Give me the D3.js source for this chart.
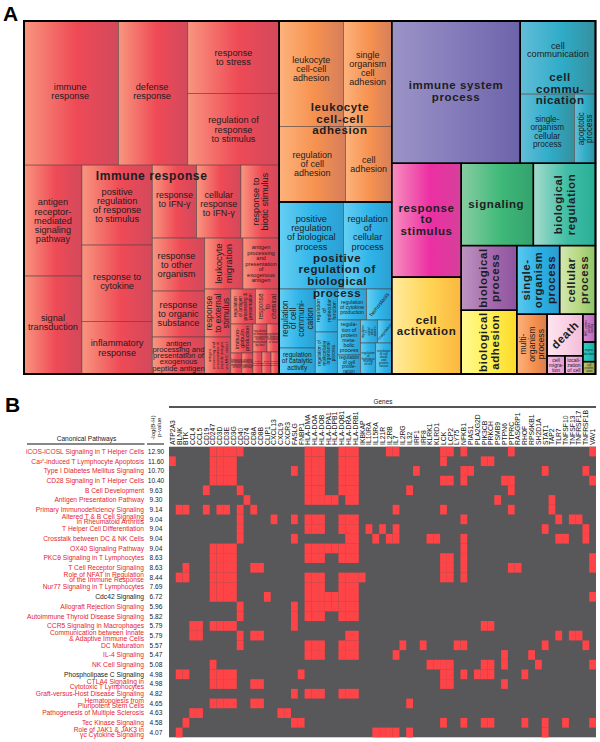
<!DOCTYPE html>
<html><head><meta charset="utf-8">
<style>html,body{margin:0;padding:0;background:#fff}svg{display:block}text{font-family:"Liberation Sans",Arial,sans-serif}</style>
<script src="https://cdn.jsdelivr.net/npm/d3@7"></script>
</head><body><svg id="c" width="600" height="742"></svg>
<script>
// ---------- Panel B data ----------
const genes = ["ATP2A3","BLNK","BTK","CCL4","CCL5","CD19","CD247","CD3D","CD3E","CD3G","CD40","CD74","CD8A","CD8B","CLIP1","CXCL13","CXCL9","CXCR3","FASLG","FNBP1","HLA-DMA","HLA-DOA","HLA-DOB","HLA-DPA1","HLA-DPB1","HLA-DQB1","HLA-DRA","HLA-DRB1","IKBKAP","IL10RA","IL15RA","IL21R","IL2RB","IL7","IL2RG","IL32","IRF1","IRF8","KLRK1","KLRD1","LCK","LCP2","LY75","NFKB1","PIAS1","PLA2G2D","PIK3CB","PRKCH","PSMB9","PTPN6","PTPRC","RASGRP1","RHOF","RPS6KB1","SH2D1A","STAT1","TAP2","TLR7","TNFSF10","TNFSF13","TNFRSF17","TNFRSF1B","VAV1"];
const pathways = ["iCOS-iCOSL Signaling in T Helper Cells","Ca²⁺-induced T Lymphocyte Apoptosis","Type I Diabetes Mellitus Signaling","CD28 Signaling in T Helper Cells","B Cell Development","Antigen Presentation Pathway","Primary Immunodeficiency Signaling","Altered T & B Cell Signaling\nin Rheumatoid Arthritis","T Helper Cell Differentiation","Crosstalk between DC & NK Cells","OX40 Signaling Pathway","PKCθ Signaling in T Lymphocytes","T Cell Receptor Signaling","Role of NFAT in Regulation\nof the Immune Response","Nur77 Signaling in T Lymphocytes","Cdc42 Signaling","Allograft Rejection Signaling","Autoimmune Thyroid Disease Signaling","CCR5 Signaling in Macrophages","Communication between Innate\n& Adaptive Immune Cells","DC Maturation","IL-4 Signaling","NK Cell Signaling","Phospholipase C Signaling","CTLA4 Signaling in\nCytotoxic T Lymphocytes","Graft-versus-Host Disease Signaling","Hematopoiesis from\nPluripotent Stem Cells","Pathogenesis of Multiple Sclerosis","Tec Kinase Signaling","Role of JAK1 & JAK3 in\nγc Cytokine Signaling"];
const pValues = ["12.90","11.60","10.70","10.40","9.63","9.30","9.14","9.04","9.04","9.04","9.04","8.63","8.63","8.44","7.69","6.72","5.96","5.82","5.79","5.79","5.57","5.47","5.08","4.98","4.98","4.82","4.65","4.63","4.58","4.07"];
const blackPathways = ["Cdc42 Signaling","Phospholipase C Signaling"];
// gene indexes present in each pathway
const hits = [
 [6,7,8,9,10,20,21,22,25,26,27,32,33,40,41,43,50,62],
 [0,6,7,8,9,20,21,22,25,26,27,40,46,47],
 [6,7,8,9,18,20,21,22,25,26,27,36,43,44,55,61],
 [6,7,8,9,20,21,22,25,26,27,40,41,43,49,50,62],
 [5,10,20,21,22,25,26,27,35,50],
 [11,20,21,22,23,24,26,27,48,56],
 [1,2,5,7,8,10,12,33,40,50,56],
 [10,15,18,20,21,22,25,26,27,43,57,59,60],
 [10,20,21,22,25,26,27,29,31,33,55,61],
 [10,18,26,27,30,32,33,38,39,43,57,58,61],
 [6,7,8,9,20,21,22,23,24,25,26,27,43],
 [6,7,8,9,20,21,22,25,26,27,40,41,43,62],
 [2,6,7,8,9,12,13,40,41,43,50,51,62],
 [1,2,6,7,8,9,20,21,22,25,26,27,28,40,41,43],
 [6,7,8,9,20,21,22,25,26,27],
 [6,7,8,9,14,20,21,22,23,24,25,26,27,62],
 [10,18,20,21,22,23,24,25,26,27],
 [10,18,20,21,22,25,26,27],
 [3,4,6,7,8,9,18,46,47],
 [3,4,10,12,13,26,27,57,59,60],
 [10,20,21,22,25,26,27,34,37,42,43,55,61],
 [20,21,22,25,26,27,33,49,53],
 [6,38,39,40,41,46,47,49,54,62],
 [1,2,6,7,8,9,19,40,41,43,45,46,47,52],
 [6,7,8,9,12,13,40,41,49],
 [18,20,21,22,25,26,27],
 [6,7,8,9,12,13,35],
 [3,4,16,17],
 [2,18,19,40,43,46,47,52,55,58,62],
 [1,30,31,32,33,35,55]
];

// ---------- Panel A data: term weights, nested the way the treemap splits them ----------
const L = (name, value) => ({name, value});
const X = (...children) => ({dir:"x", children});
const Y = (...children) => ({dir:"y", children});
const G = (group, node) => Object.assign(node, {group});

const immuneTiny = X(
  Y(L("immuno-\nglobulin\nproduction",638), X(L("leukocyte\nmediated\nimmunity\nof host",231), L("cytokine\nmediated\nsignaling\npathway",231))),
  Y(X(L("regulation\nof immune\nresponse\nto virus\nmodulation\nby host",392), L("regulation\nof defense\nresponse\nto virus",336)),
    X(L("T cell\nmediated\nimmunity",198), L("B cell\nreceptor\nsignaling",198), L("adaptive\nimmune\nresponse",176)))
);
const immuneLower = Y(
  X(L("leukocyte\nmigration",1938), L("antigen\nprocessing\nand\npresentation\nof\nexogenous\nantigen",1836)),
  X(Y(L("response\nto external\nstimulus",1248), L("antigen\nprocessing and\npresentation of\npeptide antigen\nvia MHC class I",962)),
    Y(X(L("regulation\nof antigen\nprocessing &\npresentation",858), L("response\nto\nchemical",822)), immuneTiny))
);
const immuneTerms = Y(
 X(L("immune\nresponse",13536), L("defense\nresponse",9936), Y(L("response\nto stress",6598), L("regulation of\nresponse\nto stimulus",6507))),
 X(Y(L("antigen\nreceptor-\nmediated\nsignaling\npathway",6383), L("signal\ntransduction",5635)),
   Y(L("positive\nregulation\nof response\nto stimulus",5600), L("response to\ncytokine",5355), L("inflammatory\nresponse",3675)),
   Y(X(L("response\nto IFN-γ",3212), L("cellular\nresponse\nto IFN-γ",3212), L("response to\nbiotic stimulus",2774)),
     X(Y(L("response\nto other\norganism",2756), L("response\nto organic\nsubstance",2392), L("antigen\nprocessing and\npresentation of\nexogenous\npeptide antigen",1924)),
       immuneLower)))
);
const adhesionTerms = Y(
 X(L("leukocyte\ncell-cell\nadhesion",6752), L("single\norganism\ncell\nadhesion",5064)),
 X(L("regulation\nof cell\nadhesion",4983), L("cell\nadhesion",3473))
);
const regulationTiny = X(
  Y(L("regula-\ntion of\nprotein\nmeta-\nbolic\nprocess",805), L("regulation\nof cell\nprolife-\nration",437)),
  Y(X(L("regulation\nof\nsignal\ntrans-\nduction",391), L("coagulation",322)),
    X(L("regulation\nof\nhydrolase\nactivity\nof cell",465), L("regulation\nof cell\ndeath\nand\nprotein\nkinase",496)))
);
const regulationTerms = Y(
 X(L("positive\nregulation\nof biological\nprocess",5568), L("regulation\nof\ncellular\nprocess",4176)),
 X(Y(L("regulation\nof cell\ncommuni-\ncation",2124), L("regulation\nof catalytic\nactivity",936)),
   Y(L("regulation\nof\nmolecular\nfunction",946), L("regulation of\nmulticellular\norganismal\nprocess",924)),
   Y(X(L("regulation\nof cytokine\nproduction",899), L("hemostasis",775)), regulationTiny))
);
const communicationTerms = Y(
 L("cell\ncommunication",5475),
 X(L("single-\norganism\ncellular\nprocess",3726), L("apoptotic\nprocess",1449))
);
const smallTerms = X(
 G("multi", L("multi-\norganism\nprocess",1800)),
 Y(G("death", L("death",1476)), X(G("migration", L("cell\nmigra-\ntion",324)), G("migration", L("locali-\nzation\nof cell",324)))),
 Y(G("tinyPurple", L("MHC protein\ncomplex\nbinding",351)), G("tinyTeal", L("repro-\nduction",247)), G("tinyOlive", L("cell\nprolifer-\nation",156)))
);
const lowerRight = X(
 Y(G("bioprocess", L("biological\nprocess",3575)), G("bioadhesion", L("biological\nadhesion",3520))),
 Y(X(G("singleorg", L("single-\norganism\nprocess",2924)), G("cellular", L("cellular\nprocess",2448))), smallTerms)
);
const tree = X(
 G("immune", immuneTerms),
 Y(G("adhesion", adhesionTerms), G("regulation", regulationTerms)),
 Y(X(G("system", L("immune system\nprocess",18176)), G("communication", communicationTerms)),
   X(Y(G("stimulus", L("response\nto\nstimulus",7866)), G("activation", L("cell\nactivation",6693))),
     Y(X(G("signaling", L("signaling",5904)), G("bioregulation", L("biological\nregulation",5084))), lowerRight)))
);

// gradient stops for each group: left, middle, right
const groupColors = {
 immune:["#F8967F","#EF4A56","#D2495C"], adhesion:["#FDB37C","#F6914F","#D67F5C"], regulation:["#66CFF3","#2FB4E9","#2C9FD2"],
 system:["#9C94C6","#8279B9","#6D63AA"], communication:["#63BDD8","#2FACC8","#35909E"], stimulus:["#F78FBF","#EC2FA3","#D6409B"],
 activation:["#FFEB9E","#FFD455","#FBB740"], signaling:["#88CDA2","#3FB978","#34A26E"], bioregulation:["#A6DBCE","#3FBEA5","#2BAD96"],
 bioprocess:["#BC95C0","#A469AD","#8D55A0"], bioadhesion:["#FFFA92","#FFEF50","#FDD92A"], singleorg:["#5DC9EF","#2AB0E6","#2A9BD0"],
 cellular:["#D4E8B4","#B6D880","#8FC36B"], multi:["#FBB37E","#F6924F","#D97D50"], death:["#FDE5F0","#F9D0E5","#F2BCD8"],
 migration:["#F2BCE4","#EDA9DC","#E59AD2"], tinyPurple:["#D68AD2","#C977C8","#B766B8"], tinyTeal:["#3CCBC2","#1DBFB5","#19A69E"], tinyOlive:["#BCC574","#A9B55C","#97A44D"]
};
// label font for each term: [size, rotation, dx, dy, bold, line height]
const labelFonts = {
 "immune\nresponse":[9.2,0,-1,-2],"defense\nresponse":[9.2,0,-1,-2],"response\nto stress":[9.2],"regulation of\nresponse\nto stimulus":[9.2],
 "antigen\nreceptor-\nmediated\nsignaling\npathway":[9.2],"signal\ntransduction":[9.2,0,0,-3],"positive\nregulation\nof response\nto stimulus":[9.2],
 "response to\ncytokine":[9.2,0,0,-2],"inflammatory\nresponse":[9.2],"response\nto IFN-γ":[9,0,0,-2],"cellular\nresponse\nto IFN-γ":[9,0,0,2],
 "response to\nbiotic stimulus":[9.2,-90],"response\nto other\norganism":[9.2,0,-2],"response\nto organic\nsubstance":[9.2],
 "antigen\nprocessing and\npresentation of\nexogenous\npeptide antigen":[7.7,0,0,0,0,6.2],"leukocyte\nmigration":[9.6,-90,0,0,0,9.8],
 "antigen\nprocessing\nand\npresentation\nof\nexogenous\nantigen":[5.7,0,0,0,0,5.5],"response\nto external\nstimulus":[8.4,-90,0,0,0,8.7],
 "antigen\nprocessing and\npresentation of\npeptide antigen\nvia MHC class I":[4,-90,0,0,0,4.2],"regulation\nof antigen\nprocessing &\npresentation":[4.8,-90,0,0,0,5],
 "response\nto\nchemical":[6.3,-90],"immuno-\nglobulin\nproduction":[5.4,-90],"leukocyte\nmediated\nimmunity\nof host":[2.6],"cytokine\nmediated\nsignaling\npathway":[2.6],
 "regulation\nof immune\nresponse\nto virus\nmodulation\nby host":[2.8],"regulation\nof defense\nresponse\nto virus":[2.8],
 "T cell\nmediated\nimmunity":[2.4],"B cell\nreceptor\nsignaling":[2.4],"adaptive\nimmune\nresponse":[2.4],
 "leukocyte\ncell-cell\nadhesion":[9,0,0,-5],"single\norganism\ncell\nadhesion":[9,0,0,-5],"regulation\nof cell\nadhesion":[9],"cell\nadhesion":[9],
 "positive\nregulation\nof biological\nprocess":[9.2,0,0,-13],"regulation\nof\ncellular\nprocess":[9.2,0,0,-13],
 "regulation\nof cell\ncommuni-\ncation":[8.3,-90],"regulation\nof catalytic\nactivity":[6.5],"regulation\nof\nmolecular\nfunction":[5.3,-90],
 "regulation of\nmulticellular\norganismal\nprocess":[4.7,-90],"regulation\nof cytokine\nproduction":[5,0,0,3],"hemostasis":[5.6,-52],
 "regula-\ntion of\nprotein\nmeta-\nbolic\nprocess":[5.3],"regulation\nof cell\nprolife-\nration":[4.6],"regulation\nof\nsignal\ntrans-\nduction":[3,-90],
 "coagulation":[4,-50],"regulation\nof\nhydrolase\nactivity\nof cell":[3],"regulation\nof cell\ndeath\nand\nprotein\nkinase":[3],
 "cell\ncommunication":[9.2,0,0,-8,0,8],"single-\norganism\ncellular\nprocess":[8.2,0,0,3],"apoptotic\nprocess":[8.2,-90],
 "immune system\nprocess":[11.5,0,0,-1,1,11.7],"response\nto\nstimulus":[11.5,0,0,-1,1,11.7],"cell\nactivation":[11.5,0,0,0,1,11.7],"signaling":[11.5,0,-1,0,1],
 "biological\nregulation":[11.5,-90,0,0,1,12.8],"biological\nprocess":[11.5,-90,0,0,1,12.8],"biological\nadhesion":[11.5,-90,0,0,1,12.8],
 "single-\norganism\nprocess":[11.5,-90,0,0,1,12.6],"cellular\nprocess":[11.5,-90,0,0,1,12.6],"multi-\norganism\nprocess":[8.6,-90,0,0,0,8.8],"death":[11.5,-45,0,0,1],
 "cell\nmigra-\ntion":[5],"locali-\nzation\nof cell":[5],"MHC protein\ncomplex\nbinding":[2.8,-90],"repro-\nduction":[3.4],"cell\nprolifer-\nation":[2.8]
};
// overlaid bold group headings: text, the term they sit over
const groupHeadings = [
 {text:"Immune response", group:"immune", fx:0.5, fy:0.438},
 {text:"leukocyte\ncell-cell\nadhesion", group:"adhesion", fx:0.54, fy:0.54},
 {text:"positive\nregulation of\nbiological\nprocess", group:"regulation", fx:0.515, fy:0.425},
 {text:"cell\ncommu-\nnication", group:"communication", fx:0.53, fy:0.475}
];

// ---------- draw ----------
const svg = d3.select("#c");
const defs = svg.append("defs");
Object.entries(groupColors).forEach(([k,c])=>{
  const g = defs.append("linearGradient").attr("id","g-"+k).attr("x1",0).attr("x2",1).attr("y1",0).attr("y2",0);
  [0,0.55,1].forEach((o,i)=>g.append("stop").attr("offset",o).attr("stop-color",c[i]));
});

const root = d3.hierarchy(tree).sum(d=>d.children?0:d.value);
d3.treemap().size([571.5,353]).paddingInner(0).tile((n,x0,y0,x1,y1)=>{
  (n.data.dir==="y"?d3.treemapSlice:d3.treemapDice)(n,x0,y0,x1,y1);
})(root);
const panelA = svg.append("g").attr("transform","translate(24,21)");
const groupOf = n => { let p=n; while(p){ if(p.data.group) return p.data.group; p=p.parent; } };
const leaves = root.leaves();
panelA.selectAll("rect.leaf").data(leaves).join("rect").attr("class","leaf")
  .attr("x",d=>d.x0).attr("y",d=>d.y0).attr("width",d=>d.x1-d.x0).attr("height",d=>d.y1-d.y0)
  .attr("fill",d=>`url(#g-${groupOf(d)})`).attr("stroke","#4a3c3c").attr("stroke-opacity",.65).attr("stroke-width",.8);

function drawLabel(sel, lines, fs, rot, cx, cy, bold, lh){
  const t = sel.append("text").attr("text-anchor","middle").attr("font-size",fs)
    .attr("fill","#1d1d22").attr("transform",`translate(${cx},${cy}) rotate(${rot})`);
  if(bold) t.attr("font-weight","bold").attr("letter-spacing",.6);
  const n = lines.length;
  lines.forEach((l,i)=>t.append("tspan").attr("x",0).attr("y",(i-(n-1)/2)*lh+fs*.35).text(l));
}
leaves.forEach(d=>{
  const f = labelFonts[d.data.name]||[5];
  const fs=f[0], rot=f[1]||0, dx=f[2]||0, dy=f[3]||0, bold=f[4];
  const lh = f[5] || (bold ? fs*1.05 : fs*(fs<6?0.98:1.0));
  drawLabel(panelA, d.data.name.split("\n"), fs, rot, (d.x0+d.x1)/2+dx, (d.y0+d.y1)/2+dy, bold, lh);
});
// group frames
root.descendants().filter(n=>n.data.group).forEach(n=>{
  panelA.append("rect").attr("x",n.x0).attr("y",n.y0).attr("width",n.x1-n.x0).attr("height",n.y1-n.y0)
    .attr("fill","none").attr("stroke","#000").attr("stroke-width",1.4);
});
groupHeadings.forEach(h=>{
  const n = root.descendants().find(d=>d.data.group===h.group);
  drawLabel(panelA, h.text.split("\n"), h.text==="Immune response"?12:11.5, 0,
    n.x0+(n.x1-n.x0)*h.fx, n.y0+(n.y1-n.y0)*h.fy, true, 11.7);
});
panelA.append("rect").attr("width",571.5).attr("height",353).attr("fill","none").attr("stroke","#000").attr("stroke-width",2);

svg.append("text").attr("x",3).attr("y",21).attr("font-size",21).attr("font-weight","bold").text("A");
svg.append("text").attr("x",5).attr("y",412).attr("font-size",21).attr("font-weight","bold").text("B");

// Panel B
const xS = d3.scaleBand().domain(genes).range([169,596]);
const yS = d3.scaleBand().domain(pathways).range([446.7,737.3]);
const panelB = svg.append("g");
panelB.append("rect").attr("x",169).attr("y",446.7).attr("width",427).attr("height",290.6).attr("fill","#58585A");
const cells = hits.flatMap((arr,r)=>arr.map(c=>({r,c})));
panelB.selectAll("rect.hit").data(cells).join("rect").attr("class","hit")
  .attr("x",d=>xS(genes[d.c])).attr("y",d=>yS(pathways[d.r]))
  .attr("width",xS.bandwidth()).attr("height",yS.bandwidth()).attr("fill","#FE4447");

const axis = svg.append("g").attr("transform","translate(0,446)").call(d3.axisTop(xS).tickSize(0).tickPadding(0));
axis.select(".domain").remove();
axis.selectAll("text").attr("font-size",6.8).attr("font-family",'"Liberation Sans",Arial,sans-serif').attr("fill","#111")
  .attr("text-anchor","start").attr("transform","rotate(-90)").attr("x",1).attr("y",2.4).attr("dy",0);

pathways.forEach((p,i)=>{
  const lines=p.split("\n"), cy=yS(p)+yS.bandwidth()/2;
  const col = blackPathways.includes(p)?"#222":"#E5252D";
  const t = svg.append("text").attr("text-anchor","end").attr("font-size",6.7).attr("fill",col);
  lines.forEach((l,k)=>t.append("tspan").attr("x",144).attr("y",cy+(k-(lines.length-1)/2)*5.3+2.3).text(l));
  svg.append("text").attr("x",156).attr("y",cy+2.3).attr("text-anchor","middle").attr("font-size",6.6).attr("fill","#222").text(pValues[i]);
});
svg.append("text").attr("x",86.5).attr("y",440.5).attr("text-anchor","middle").attr("font-size",6.6).attr("fill","#222").text("Canonical Pathways");
svg.append("rect").attr("x",27).attr("y",443.5).attr("width",117.5).attr("height",1).attr("fill","#111");
svg.append("rect").attr("x",147).attr("y",443.5).attr("width",17).attr("height",1).attr("fill","#111");
["-log(B-H)","p-value"].forEach((t,i)=>svg.append("text").attr("transform",`translate(${155+i*6},427.5) rotate(-90)`).attr("text-anchor","middle").attr("font-size",6).attr("fill","#222").text(t));
svg.append("text").attr("x",383).attr("y",404).attr("text-anchor","middle").attr("font-size",6.4).attr("fill","#222").text("Genes");
svg.append("rect").attr("x",169).attr("y",406).attr("width",427).attr("height",2).attr("fill","#555");
</script></body></html>
